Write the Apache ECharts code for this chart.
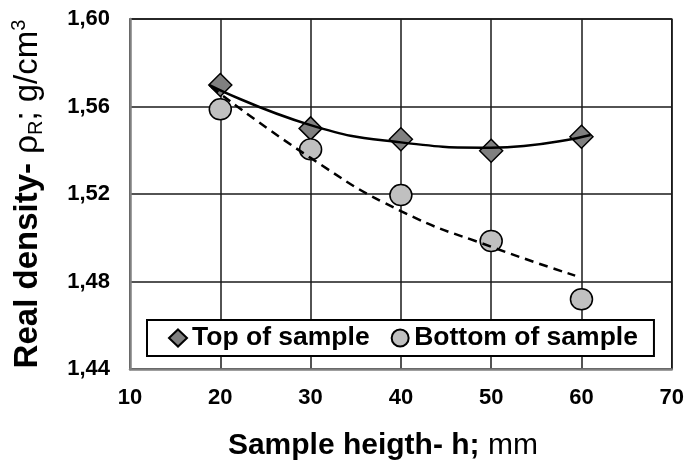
<!DOCTYPE html>
<html>
<head>
<meta charset="utf-8">
<script src="https://cdn.jsdelivr.net/npm/echarts@6/dist/echarts.min.js"></script>
<style>
html,body{margin:0;padding:0;background:#fff;}
#chart{width:687px;height:466px;}
</style>
</head>
<body>
<div id="chart"></div>
<script>
// Data
const heights = [20, 30, 40, 50, 60];
const topValues = [1.5698, 1.5500, 1.5450, 1.5398, 1.5462];
const bottomValues = [1.5587, 1.5404, 1.5195, 1.4985, 1.4719];
// Trend curves as drawn in the reference
const topTrendX = [18.8, 30, 40, 50, 61];
const topTrendY = [1.5698, 1.5515, 1.5436, 1.5412, 1.5470];
const bottomTrendX = [19, 30, 40, 50, 59.3];
const bottomTrendY = [1.5690, 1.5365, 1.5122, 1.4959, 1.4827];
const seriesNames = ['Top of sample', 'Bottom of sample'];

const FONT = 'Liberation Sans, Arial, sans-serif';
const pair = (xs, ys) => xs.map((x, i) => [x, ys[i]]);

const chart = echarts.init(document.getElementById('chart'), null, {renderer: 'canvas'});
chart.setOption({
  animation: false,
  backgroundColor: '#fff',
  grid: {
    left: 128, right: 13, top: 19, bottom: 97,
    show: true, borderColor: '#1a1a1a', borderWidth: 1.5
  },
  legend: {
    data: [
      {name: seriesNames[0], icon: 'diamond'},
      {name: seriesNames[1], icon: 'circle'}
    ],
    left: 147, top: 320,
    padding: [4, 16, 4, 21],
    itemGap: 21, itemWidth: 18, itemHeight: 17,
    backgroundColor: '#fff', borderColor: '#000', borderWidth: 2,
    textStyle: {fontFamily: FONT, fontSize: 26.5, fontWeight: 'bold', color: '#000', lineHeight: 28}
  },
  xAxis: {
    type: 'value', min: 10, max: 70, interval: 10,
    axisLine: {show: true, lineStyle: {color: '#808080', width: 2.5}},
    axisTick: {show: false},
    splitLine: {show: true, lineStyle: {color: '#1a1a1a', width: 1.5}},
    axisLabel: {fontFamily: FONT, fontSize: 22, fontWeight: 'bold', color: '#000', margin: 18},
    name: '{b|Sample heigth- h;}{n| mm}',
    nameLocation: 'middle', nameGap: 62,
    nameTextStyle: {
      padding: [0, 36, 0, 0],
      rich: {
        b: {fontFamily: FONT, fontSize: 30, fontWeight: 'bold', color: '#000'},
        n: {fontFamily: FONT, fontSize: 30, fontWeight: 'normal', color: '#000'}
      }
    }
  },
  yAxis: {
    type: 'value', min: 1.44, max: 1.60, interval: 0.04,
    axisLine: {show: true, lineStyle: {color: '#808080', width: 2.5}},
    axisTick: {show: false},
    splitLine: {show: true, lineStyle: {color: '#1a1a1a', width: 1.5}},
    axisLabel: {
      fontFamily: FONT, fontSize: 22, fontWeight: 'bold', color: '#000', margin: 20,
      formatter: v => v.toFixed(2).replace('.', ',')
    },
    name: '{b|Real density- }{n|ρ}{sub|R}{n|; g/cm}{sup|3}',
    nameLocation: 'middle', nameGap: 82, nameRotate: 90,
    nameTextStyle: {
      rich: {
        b: {fontFamily: FONT, fontSize: 33, fontWeight: 'bold', color: '#000', lineHeight: 40, verticalAlign: 'middle'},
        n: {fontFamily: FONT, fontSize: 33, fontWeight: 'normal', color: '#000', lineHeight: 40, verticalAlign: 'middle'},
        sub: {fontFamily: FONT, fontSize: 20, color: '#000', lineHeight: 40, verticalAlign: 'bottom', padding: [0, 0, 2, 0]},
        sup: {fontFamily: FONT, fontSize: 20, color: '#000', lineHeight: 40, verticalAlign: 'top', padding: [1, 0, 0, 0]}
      }
    }
  },
  series: [
    {
      name: seriesNames[0], type: 'scatter', z: 3,
      symbol: 'diamond', symbolSize: 23,
      itemStyle: {color: '#808080', borderColor: '#000', borderWidth: 1.5, opacity: 1},
      data: pair(heights, topValues)
    },
    {
      name: seriesNames[1], type: 'scatter', z: 3,
      symbol: 'circle', symbolSize: [22, 21],
      itemStyle: {color: '#c0c0c0', borderColor: '#000', borderWidth: 1.5, opacity: 1},
      data: pair(heights, bottomValues)
    },
    {
      name: 'top-trend', type: 'line', z: 5, smooth: 0.5,
      showSymbol: false, silent: true,
      lineStyle: {color: '#000', width: 2.5},
      data: pair(topTrendX, topTrendY)
    },
    {
      name: 'bottom-trend', type: 'line', z: 5, smooth: 0.5,
      showSymbol: false, silent: true,
      lineStyle: {color: '#000', width: 2.5, type: [9, 6]},
      data: pair(bottomTrendX, bottomTrendY)
    }
  ]
});
</script>
</body>
</html>
